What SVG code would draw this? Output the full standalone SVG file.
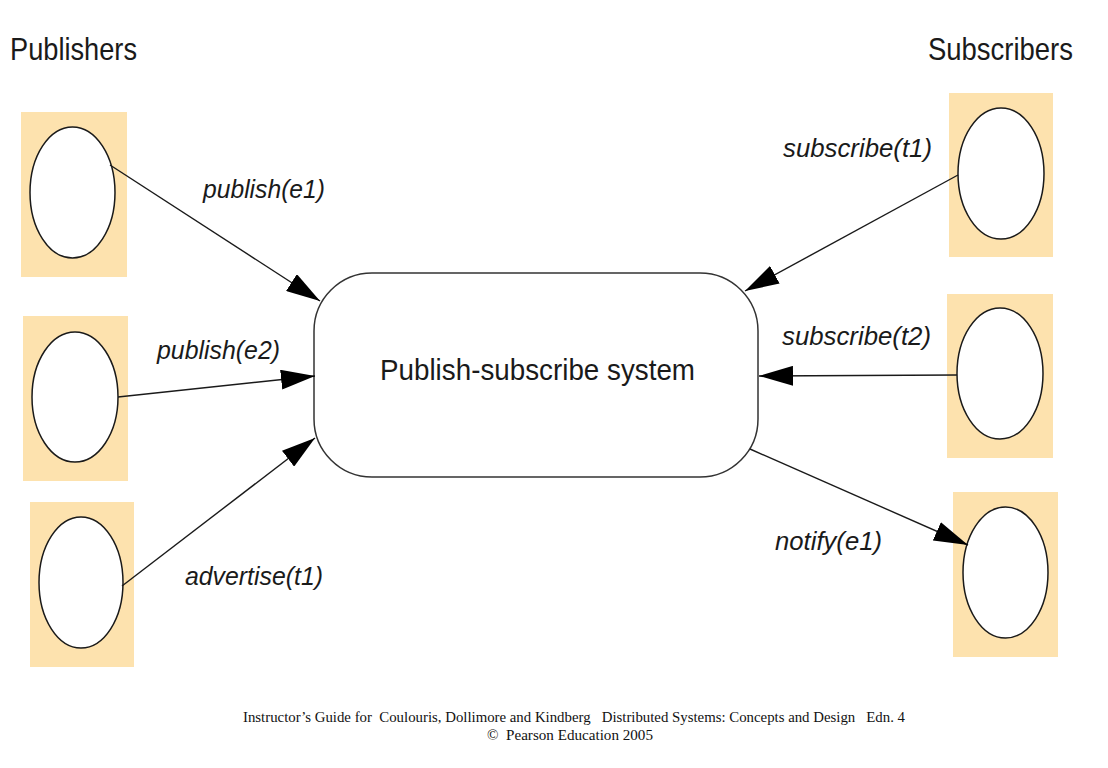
<svg xmlns="http://www.w3.org/2000/svg" width="1108" height="768" viewBox="0 0 1108 768">
  <style>
    .bg { fill: #FDE2AE; }
    .proc { fill: #ffffff; stroke: #1a1a1a; stroke-width: 1.5; }
    .sys { fill: #ffffff; stroke: #333333; stroke-width: 1.5; }
    .conn { stroke: #1a1a1a; stroke-width: 1.4; fill: none; marker-end: url(#arrow); }
    .title { font-family: "Liberation Sans", Arial, sans-serif; font-size: 32px; fill: #1a1a1a; }
    .lbl { font-family: "Liberation Sans", Arial, sans-serif; font-size: 26px; font-style: italic; fill: #1a1a1a; }
    .main { font-family: "Liberation Sans", Arial, sans-serif; font-size: 30px; fill: #1a1a1a; }
    .foot { font-family: "Liberation Serif", "Times New Roman", serif; font-size: 14px; fill: #111111; }
  </style>
  <defs>
    <marker id="arrow" markerUnits="userSpaceOnUse" markerWidth="34" markerHeight="20" refX="34" refY="10" orient="auto">
      <path d="M0,0 L34,10 L0,20 z" fill="#000000"/>
    </marker>
  </defs>
  <rect width="1108" height="768" fill="#ffffff"/>

  <text class="title" x="10" y="60" textLength="127" lengthAdjust="spacingAndGlyphs">Publishers</text>
  <text class="title" x="928" y="60" textLength="145" lengthAdjust="spacingAndGlyphs">Subscribers</text>

  <g id="pub1">
    <rect class="bg" x="21" y="112" width="106" height="165"/>
    <ellipse class="proc" cx="72.5" cy="192.5" rx="42.5" ry="65.5"/>
  </g>
  <g id="pub2">
    <rect class="bg" x="23" y="316" width="105" height="165"/>
    <ellipse class="proc" cx="75" cy="397" rx="43" ry="65"/>
  </g>
  <g id="pub3">
    <rect class="bg" x="30" y="502" width="104" height="165"/>
    <ellipse class="proc" cx="81" cy="582.5" rx="42" ry="65.5"/>
  </g>
  <g id="sub1">
    <rect class="bg" x="949" y="93" width="104" height="164"/>
    <ellipse class="proc" cx="1001" cy="173.5" rx="43" ry="65.5"/>
  </g>
  <g id="sub2">
    <rect class="bg" x="947" y="294" width="106" height="164"/>
    <ellipse class="proc" cx="1000" cy="373.5" rx="43" ry="65.5"/>
  </g>
  <g id="sub3">
    <rect class="bg" x="953" y="492" width="105" height="165"/>
    <ellipse class="proc" cx="1005.5" cy="572.5" rx="42.5" ry="65.5"/>
  </g>

  <g id="system">
    <rect class="sys" x="314" y="273" width="444" height="204" rx="58" ry="58"/>
    <text class="main" x="380" y="380" textLength="315" lengthAdjust="spacingAndGlyphs">Publish-subscribe system</text>
  </g>

  <g id="connectors">
    <line class="conn" x1="110" y1="165" x2="320" y2="301"/>
    <line class="conn" x1="118" y1="397" x2="315" y2="376"/>
    <line class="conn" x1="122" y1="586" x2="315" y2="438"/>
    <line class="conn" x1="958" y1="175" x2="745" y2="291"/>
    <line class="conn" x1="957" y1="375" x2="759" y2="376"/>
    <line class="conn" x1="750" y1="449" x2="968" y2="545"/>
  </g>

  <g id="labels">
    <text class="lbl" x="203" y="198" textLength="122" lengthAdjust="spacingAndGlyphs">publish(e1)</text>
    <text class="lbl" x="157" y="359" textLength="123" lengthAdjust="spacingAndGlyphs">publish(e2)</text>
    <text class="lbl" x="185" y="585" textLength="138" lengthAdjust="spacingAndGlyphs">advertise(t1)</text>
    <text class="lbl" x="783" y="157" textLength="149" lengthAdjust="spacingAndGlyphs">subscribe(t1)</text>
    <text class="lbl" x="782" y="345" textLength="149" lengthAdjust="spacingAndGlyphs">subscribe(t2)</text>
    <text class="lbl" x="775" y="550" textLength="107" lengthAdjust="spacingAndGlyphs">notify(e1)</text>
  </g>

  <g id="footer">
    <text class="foot" x="243" y="722" textLength="662" lengthAdjust="spacingAndGlyphs" xml:space="preserve">Instructor’s Guide for  Coulouris, Dollimore and Kindberg   Distributed Systems: Concepts and Design   Edn. 4</text>
    <text class="foot" x="487" y="740" textLength="166" lengthAdjust="spacingAndGlyphs" xml:space="preserve">©  Pearson Education 2005</text>
  </g>
</svg>
